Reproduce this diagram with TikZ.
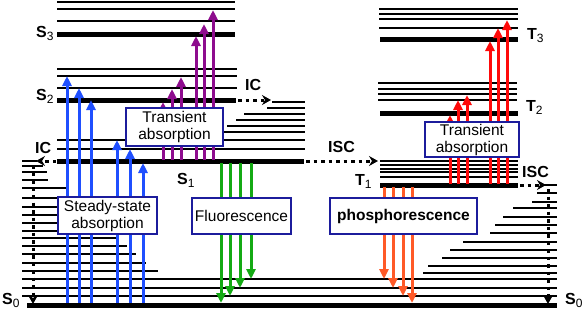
\documentclass[tikz,border=0pt]{standalone}
\usepackage{fontspec}
\setmainfont{Liberation Sans}
\usetikzlibrary{arrows.meta}
\definecolor{AbsBlue}{HTML}{1F4FFF}
\definecolor{TransPurple}{HTML}{8E0C8E}
\definecolor{FluoGreen}{HTML}{14AA14}
\definecolor{TransRed}{HTML}{FF0A0A}
\definecolor{PhosOrange}{HTML}{FF5A28}
\definecolor{BoxNavy}{HTML}{1C1C9C}
\newcommand{\statename}[2]{\textbf{#1}\raisebox{-3.5pt}{\fontsize{12}{12}\selectfont #2}}
\newcommand{\drawlevels}[3]{%
  \foreach \y in {#3}{
    \draw[thinlevel] (#1,\y) -- (#2,\y);
  }%
}
\newcommand{\drawtransitions}[3]{%
  \foreach \x/\yend in {#3}{
    \draw[transition,#1] (\x,#2) -- (\x,\yend);
  }%
}
\tikzset{
  thinlevel/.style={line width=1.4pt},
  thicklevel/.style={line width=5pt},
  transition/.style={line width=3pt,-{Triangle[width=9pt,length=10pt]}},
  decay/.style={line width=3pt,dash pattern=on 3.5pt off 4pt,
    -{Stealth[width=10pt,length=9pt,inset=3pt]}},
  infobox/.style={draw=BoxNavy,line width=1.3pt,fill=white,align=center,
    inner sep=0pt,font=\fontsize{15.5}{17}\selectfont},
  statelabel/.style={anchor=base west,inner sep=0pt,font=\fontsize{16}{16}\selectfont}
}

\begin{document}
\begin{tikzpicture}[x=1pt,y=-1pt]
  \useasboundingbox (0,0) rectangle (582,311);
  \drawlevels{57}{235}{2,9,21}
  \draw[thicklevel] (57,34) -- (235,34);
  \drawlevels{57}{237}{69,76,88}
  \draw[thicklevel] (57,100) -- (236,100);
  \foreach \xs/\y in {272/102,267/108,244/114,236/120,227/126,222/132,57/140,57/149}{
    \draw[thinlevel] (\xs,\y) -- (305,\y);
  }
  \draw[thicklevel] (57,161) -- (304,161);
  \foreach \y/\xe in {161/37,166/43,172/47,180/48,188/68,198/90,207/95,215/100,
                      223/105,231/110,238/118,246/127,254/136,263/146,271/158}{
    \draw[thinlevel] (22,\y) -- (\xe,\y);
  }
  \drawlevels{22}{557}{279,288,296}
  \foreach \xs/\y in {540/185,537/193,532/202,513/208,503/217,495/225,
                      490/233,463/242,450/250,442/258,428/266,423/273}{
    \draw[thinlevel] (\xs,\y) -- (557,\y);
  }
  \draw[thicklevel] (27,305) -- (557,305);
  \drawlevels{379}{518}{9,14,19,28}
  \draw[thicklevel] (380,39) -- (518,39);
  \drawlevels{378}{517}{83,89,94,100}
  \draw[thicklevel] (380,113) -- (518,113);
  \drawlevels{380}{518}{161,165,169,172,177}
  \draw[thicklevel] (380,185) -- (518,185);

  \drawtransitions{AbsBlue}{303}{67/76,79/88,91/100,117/140,130/149,143/163}
  \drawtransitions{TransPurple}{160}{163/102,172/89,181/77,196/36,204/24,213/10}
  \drawtransitions{FluoGreen}{163}{221/303,230/296,240/288,251/279}
  \drawtransitions{TransRed}{184}{450/115,458/100,467/95,490/41,498/28,507/20}
  \drawtransitions{PhosOrange}{187}{384/279,393/288,403/296,412/303}

  \draw[decay] (56,161) -- (36,161);
  \draw[decay] (33,165) -- (33,304);
  \draw[decay] (238,100) -- (271,100);
  \draw[decay] (306,161) -- (378,161);
  \draw[decay] (520,185) -- (546,185);
  \draw[decay] (548,189) -- (548,304);

  \node[infobox,minimum width=97pt,minimum height=38pt] (tasing) at (174.5,127)
    {Transient\\absorption};
  \node[infobox,minimum width=99pt,minimum height=37pt] (ssabs) at (107.5,215.5)
    {Steady-state\\absorption};
  \node[infobox,minimum width=99pt,minimum height=36pt] (fluo) at (241.5,216)
    {Fluorescence};
  \node[infobox,minimum width=94pt,minimum height=35pt] (tatrip) at (472,139.5)
    {Transient\\absorption};
  \node[infobox,minimum width=147pt,minimum height=36pt] (phos) at (403.5,216)
    {\textbf{phosphorescence}};

  \node[statelabel] (s3) at (36,37) {\statename{S}{3}};
  \node[statelabel] (s2) at (36,100) {\statename{S}{2}};
  \node[statelabel] (s1) at (177,184) {\statename{S}{1}};
  \node[statelabel] (s0l) at (2,304) {\statename{S}{0}};
  \node[statelabel] (s0r) at (565,304) {\statename{S}{0}};
  \node[statelabel] (t3) at (527,39) {\statename{T}{3}};
  \node[statelabel] (t2) at (526,111) {\statename{T}{2}};
  \node[statelabel] (t1) at (355,185) {\statename{T}{1}};
  \node[statelabel] (icl) at (35,153) {\textbf{IC}};
  \node[statelabel] (icr) at (245,90) {\textbf{IC}};
  \node[statelabel] (iscm) at (328,152) {\textbf{ISC}};
  \node[statelabel] (iscr) at (522,177) {\textbf{ISC}};
\end{tikzpicture}
\end{document}
